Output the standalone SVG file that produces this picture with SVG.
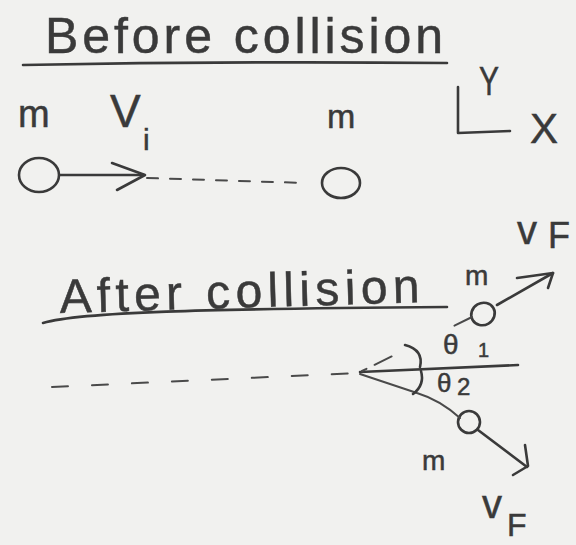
<svg xmlns="http://www.w3.org/2000/svg" width="576" height="545" viewBox="0 0 576 545">
<style>
.ink{stroke:#3a3a3a;stroke-width:2.6;fill:none;stroke-linecap:round;stroke-linejoin:round}
.thin{stroke:#4a4a4a;stroke-width:2;fill:none;stroke-linecap:round}
text{font-family:"Liberation Sans","DejaVu Sans",sans-serif;fill:#3a3a3a;stroke:#3a3a3a;stroke-width:0.5}
</style>
<rect width="576" height="545" fill="#f1f1ef"/>

<g id="before-title">
<text x="45" y="53" font-size="50" textLength="398" lengthAdjust="spacing">Before collision</text>
<path class="ink" d="M23,65 Q235,61 447,63"/>
</g>

<g id="axes">
<path class="ink" d="M458,87 L458,133 L510,131"/>
<text x="479" y="95" font-size="40" textLength="20" lengthAdjust="spacingAndGlyphs">Y</text>
<text x="530" y="143" font-size="42">X</text>
</g>

<g id="ball1-before">
<ellipse class="ink" cx="39" cy="175" rx="20" ry="17"/>
<text x="18" y="127" font-size="38">m</text>
</g>

<g id="ball2-before">
<ellipse class="ink" cx="341" cy="183" rx="19" ry="15"/>
<text x="327" y="128" font-size="34">m</text>
</g>

<g id="after-title">
<text x="60" y="313" font-size="48" textLength="360" lengthAdjust="spacing" transform="rotate(-1.7 60 313)">After collision</text>
<path class="ink" d="M43,323 C80,312 200,309 447,307"/>
</g>

<g id="ball1-after">
<ellipse class="ink" cx="483" cy="314" rx="12" ry="11" transform="rotate(-30 483 314)"/>
<text x="465" y="285" font-size="28">m</text>
</g>

<g id="ball2-after">
<ellipse class="ink" cx="469" cy="422" rx="11" ry="11"/>
<text x="422" y="470" font-size="28">m</text>
</g>

<g id="connectors">
<path class="ink" d="M60,175 L143,175"/>
<path class="ink" d="M112,163 L145,175 L117,190"/>
<path class="thin" d="M147,178 L305,183" stroke-dasharray="11 12"/>
<path class="thin" d="M52,387 L357,373" stroke-dasharray="16 24"/>
<path class="ink" d="M360,372 L518,365"/>
<path class="thin" d="M362,371 L472,317" stroke-dasharray="5 9 19 70 40"/>
<path class="ink" d="M497,305 L553,273"/>
<path class="ink" d="M517,278 L553,273 L548,288"/>
<path class="thin" d="M360,374 L417,393 Q440,400 460,418"/>
<path class="ink" d="M478,430 L527,467"/>
<path class="ink" d="M525,445 L528,466 L513,475"/>
<path class="ink" d="M405,345 Q424,350 420,367"/>
<path class="ink" d="M421,371 Q425,385 413,394"/>
</g>

<g id="labels">
<text x="110" y="127" font-size="46">V</text>
<text x="143" y="150" font-size="30">i</text>
<text x="443" y="354" font-size="28">θ</text>
<text x="478" y="357" font-size="20">1</text>
<text x="437" y="392" font-size="26">θ</text>
<text x="457" y="395" font-size="24">2</text>
<text x="517" y="244" font-size="40">v</text>
<text x="548" y="248" font-size="36">F</text>
<text x="482" y="518" font-size="40">v</text>
<text x="507" y="536" font-size="32">F</text>
</g>
</svg>
